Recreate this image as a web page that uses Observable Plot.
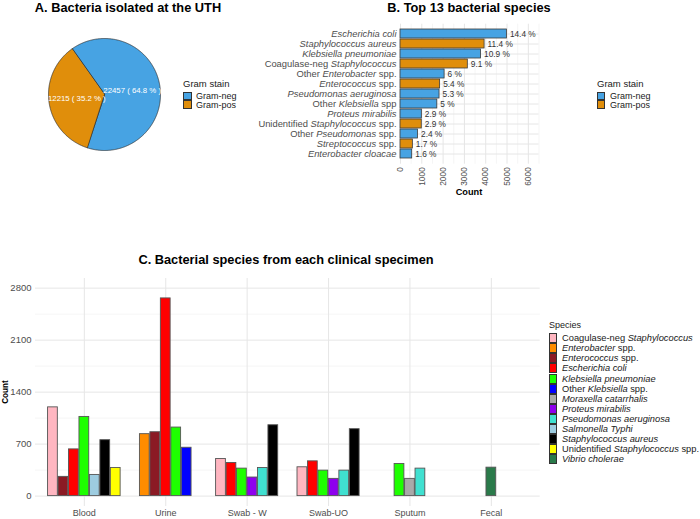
<!DOCTYPE html>
<html>
<head>
<meta charset="utf-8">
<script src="https://cdn.jsdelivr.net/npm/d3@7"></script>
<script src="https://cdn.jsdelivr.net/npm/@observablehq/plot@0.6"></script>
<style>
  body { margin: 0; background: #fff; font-family: "Liberation Sans", Arial, Helvetica, sans-serif; }
  #wrap { position: relative; width: 700px; height: 519px; overflow: hidden; background: #fff; }
  .abs { position: absolute; }
  .title { font-weight: bold; font-size: 12.8px; color: #000; white-space: nowrap; transform: translate(-50%, -50%); }
  .lgtitle { font-size: 9.5px; color: #1a1a1a; white-space: nowrap; transform: translateY(-50%); }
  .lgtext { font-size: 9px; color: #1a1a1a; white-space: nowrap; transform: translateY(-50%); }
  .key { box-sizing: border-box; }
  svg { overflow: visible; }
</style>
</head>
<body>
<div id="wrap"></div>
<script>
// ---------- DATA ----------
// Panel A
const gramStain = ["Gram-neg", "Gram-pos"];
const gramCounts = [22457, 12215];
const gramPct = ["64.8", "35.2"];
const gramColors = ["#47A3E3", "#E08E0B"];

// Panel B
const topSpecies = [
  "*Escherichia coli*",
  "*Staphylococcus aureus*",
  "*Klebsiella pneumoniae*",
  "Coagulase-neg *Staphylococcus*",
  "Other *Enterobacter* spp.",
  "*Enterococcus* spp.",
  "*Pseudomonas aeruginosa*",
  "Other *Klebsiella* spp",
  "*Proteus mirabilis*",
  "Unidentified *Staphylococcus* spp.",
  "Other *Pseudomonas* spp.",
  "*Streptococcus* spp.",
  "*Enterobacter cloacae*"
];
const topGram = ["Gram-neg", "Gram-pos", "Gram-neg", "Gram-pos", "Gram-neg", "Gram-pos", "Gram-neg",
                 "Gram-neg", "Gram-neg", "Gram-pos", "Gram-neg", "Gram-pos", "Gram-neg"];
const topCounts = [4993, 3946, 3781, 3159, 2070, 1860, 1832, 1728, 1002, 998, 822, 580, 550];
const topPct = ["14.4 %", "11.4 %", "10.9 %", "9.1 %", "6 %", "5.4 %", "5.3 %", "5 %", "2.9 %", "2.9 %", "2.4 %", "1.7 %", "1.6 %"];
const countTicksB = [0, 1000, 2000, 3000, 4000, 5000, 6000];
const minorTicksB = [500, 1500, 2500, 3500, 4500, 5500, 6500];

// Panel C
const specimens = ["Blood", "Urine", "Swab - W", "Swab-UO", "Sputum", "Fecal"];
const speciesC = [
  "Coagulase-neg *Staphylococcus*",
  "*Enterobacter* spp.",
  "*Enterococcus* spp.",
  "*Escherichia coli*",
  "*Klebsiella pneumoniae*",
  "Other *Klebsiella* spp.",
  "*Moraxella catarrhalis*",
  "*Proteus mirabilis*",
  "*Pseudomonas aeruginosa*",
  "*Salmonella Typhi*",
  "*Staphylococcus aureus*",
  "Unidentified *Staphylococcus* spp.",
  "*Vibrio cholerae*"
];
const speciesColors = ["#FFB6C1", "#FF8C00", "#8B1A24", "#FF0000", "#1EFF00", "#0000FF", "#A9A9A9",
                       "#8E00EE", "#40E0D0", "#9DCCE0", "#000000", "#FFFF00", "#2A7A4A"];
// long format: specimen index, species index, count
const cSpecimen = [0,0,0,0,0,0,0, 1,1,1,1,1, 2,2,2,2,2,2, 3,3,3,3,3,3, 4,4,4, 5];
const cSpecies  = [0,2,3,4,9,10,11, 1,2,3,4,5, 0,3,4,7,8,10, 0,3,4,7,8,10, 4,6,8, 12];
const cCount    = [1195,259,629,1066,285,753,379, 834,860,2662,923,651, 499,446,370,250,379,954,
                   388,468,343,232,343,901, 432,232,370, 383];
const countTicksC = [0, 700, 1400, 2100, 2800];
const minorTicksC = [350, 1050, 1750, 2450];

// ---------- HELPERS ----------
const FONT = "Liberation Sans, Arial, Helvetica, sans-serif";
const wrap = document.getElementById("wrap");
function place(el, left, top) { el.classList.add("abs"); el.style.left = left + "px"; el.style.top = top + "px"; wrap.appendChild(el); return el; }
function div(cls, html) { const d = document.createElement("div"); d.className = cls; d.innerHTML = html; return d; }
function mdToHtml(s) { return s.split("*").map((p, i) => i % 2 ? `<i>${p}</i>` : p).join(""); }
function italicizeSvgText(textEl, s) {
  while (textEl.firstChild) textEl.removeChild(textEl.firstChild);
  s.split("*").forEach((p, i) => {
    if (!p) return;
    const t = document.createElementNS("http://www.w3.org/2000/svg", "tspan");
    t.textContent = p;
    if (i % 2) t.setAttribute("font-style", "italic");
    textEl.appendChild(t);
  });
}
function legend(left, top, title, labels, colors, keyW, keyH, textLeft, borderColor) {
  place(div("lgtitle", title), left, top);
  labels.forEach((lab, i) => {
    const k = div("key", "");
    k.style.width = keyW + "px"; k.style.height = keyH + "px";
    k.style.background = colors[i];
    k.style.border = "1px solid " + borderColor;
    place(k, left, top + 8.8 + i * keyH);
    place(div("lgtext", mdToHtml(lab)), textLeft, top + 8.8 + i * keyH + keyH / 2);
  });
}

// ---------- PANEL A: pie ----------
const pieStart = 324.6 * Math.PI / 180;
const arcs = d3.pie().sort(null).startAngle(pieStart).endAngle(pieStart + 2 * Math.PI)(gramCounts);
const slicePts = arcs.map(a => {
  const pts = [{x: 0, y: 0}];
  const n = Math.ceil((a.endAngle - a.startAngle) / (Math.PI / 360));
  for (let k = 0; k <= n; k++) {
    const t = a.startAngle + (a.endAngle - a.startAngle) * k / n;
    pts.push({x: Math.sin(t), y: Math.cos(t)});
  }
  return pts;
});
const pieLabels = arcs.map((a, i) => {
  const m = (a.startAngle + a.endAngle) / 2;
  return {x: 0.5 * Math.sin(m), y: 0.5 * Math.cos(m), text: `${gramCounts[i]} ( ${gramPct[i]} % )`};
});
const plotA = Plot.plot({
  width: 240, height: 200, margin: 0,
  style: {fontFamily: FONT, background: "transparent"},
  x: {domain: [-1, 1], range: [48, 160], axis: null},
  y: {domain: [-1, 1], range: [150, 38], axis: null},
  marks: [
    ...slicePts.map((pts, i) => Plot.line(pts, {x: "x", y: "y", fill: gramColors[i], stroke: "#2b2b2b", strokeWidth: 0.7, curve: "linear-closed"})),
    Plot.text(pieLabels, {x: "x", y: "y", text: "text", fill: "#ffffff", fontSize: 7.8})
  ]
});
place(plotA, 0, 0);
place(div("title", "A. Bacteria isolated at the UTH"), 128, 7);
legend(183, 83, "Gram stain", gramStain, gramColors, 8.5, 8.5, 196, "#333");

// ---------- PANEL B: top 13 ----------
const dataB = topSpecies.map((s, i) => ({species: s, gram: topGram[i], count: topCounts[i], pct: topPct[i]}));
const plotB = Plot.plot({
  width: 310, height: 200,
  marginLeft: 160, marginRight: 11.5, marginTop: 23.7, marginBottom: 36.3,
  style: {fontFamily: FONT, background: "transparent", color: "#4d4d4d"},
  x: {domain: [0, 6500]},
  y: {domain: topSpecies, range: [24.8, 162.6], paddingInner: 0.1, paddingOuter: 0.05},
  color: {domain: gramStain, range: gramColors},
  marks: [
    Plot.gridX(minorTicksB, {stroke: "#ebebeb", strokeOpacity: 1, strokeWidth: 0.5}),
    Plot.gridX(countTicksB, {stroke: "#e6e6e6", strokeOpacity: 1, strokeWidth: 1}),
    Plot.gridY({stroke: "#e6e6e6", strokeOpacity: 1, strokeWidth: 1}),
    Plot.barX(dataB, {x: "count", y: "species", fill: "gram", stroke: "#3a3a3a", strokeWidth: 0.8}),
    Plot.text(dataB, {x: "count", y: "species", text: "pct", dx: 3, textAnchor: "start", fill: "#333", fontSize: 8.3}),
    Plot.axisX(countTicksB, {tickRotate: -90, tickSize: 0, tickPadding: 3, fontSize: 8.4, label: null, tickFormat: d => String(d)}),
    Plot.axisY({tickSize: 0, tickPadding: 4, fontSize: 9.4, label: null, tickFormat: d => d})
  ]
});
plotB.querySelectorAll('[aria-label="y-axis tick label"] text').forEach(t => italicizeSvgText(t, t.textContent));
place(plotB, 240, 0);
place(div("title", "B. Top 13 bacterial species"), 469, 7);
const cb = place(div("title", "Count"), 469, 192); cb.style.fontSize = "9.2px";
legend(597, 83, "Gram stain", gramStain, gramColors, 8, 8.5, 610, "#333");

// ---------- PANEL C: species per specimen ----------
const dataC = cSpecimen.map((g, i) => ({g, specimen: specimens[g], species: speciesC[cSpecies[i]], si: cSpecies[i], count: cCount[i]}));
const groups = d3.group(dataC, d => d.g);
const maxN = d3.max(groups.values(), v => v.length);
const slot = 0.9 / maxN;
groups.forEach(rows => {
  rows.sort((a, b) => a.si - b.si);
  rows.forEach((r, k) => {
    const c = r.g + (k - (rows.length - 1) / 2) * slot;
    r.x1 = c - slot / 2; r.x2 = c + slot / 2;
  });
});
const plotC = Plot.plot({
  width: 545, height: 269,
  marginLeft: 35, marginRight: 5.3, marginTop: 28, marginBottom: 13,
  style: {fontFamily: FONT, background: "transparent", color: "#4d4d4d"},
  x: {domain: [-0.6, specimens.length - 0.4]},
  y: {domain: [-140, 2930]},
  color: {domain: speciesC, range: speciesColors},
  marks: [
    Plot.gridY(minorTicksC, {stroke: "#ebebeb", strokeOpacity: 1, strokeWidth: 0.5}),
    Plot.gridY(countTicksC, {stroke: "#e6e6e6", strokeOpacity: 1, strokeWidth: 1}),
    Plot.gridX(d3.range(specimens.length), {stroke: "#e6e6e6", strokeOpacity: 1, strokeWidth: 1}),
    Plot.rectY(dataC, {x1: "x1", x2: "x2", y1: 0, y2: "count", fill: "species", stroke: "#555", strokeWidth: 0.9, insetLeft: 0.35, insetRight: 0.35}),
    Plot.axisX(d3.range(specimens.length), {tickSize: 0, tickPadding: 3, fontSize: 9, label: null, tickFormat: i => specimens[i]}),
    Plot.axisY(countTicksC, {tickSize: 0, tickPadding: 4, fontSize: 9.5, label: null, tickFormat: d => String(d)})
  ]
});
place(plotC, 0, 250);
place(div("title", "C. Bacterial species from each clinical specimen"), 286, 259);
const cc = place(div("title", "Count"), 5, 392); cc.style.fontSize = "8.2px"; cc.style.transform = "translate(-50%, -50%) rotate(-90deg)";
legend(549, 324.5, "Species", speciesC, speciesColors, 8, 10.05, 562, "#333");
document.querySelectorAll(".lgtitle").forEach(d => { if (d.textContent === "Species") d.style.fontSize = "9px"; });
document.querySelectorAll(".lgtext").forEach(d => { if (!d.textContent.startsWith("Gram")) d.style.fontSize = "9.3px"; });
</script>
</body>
</html>
